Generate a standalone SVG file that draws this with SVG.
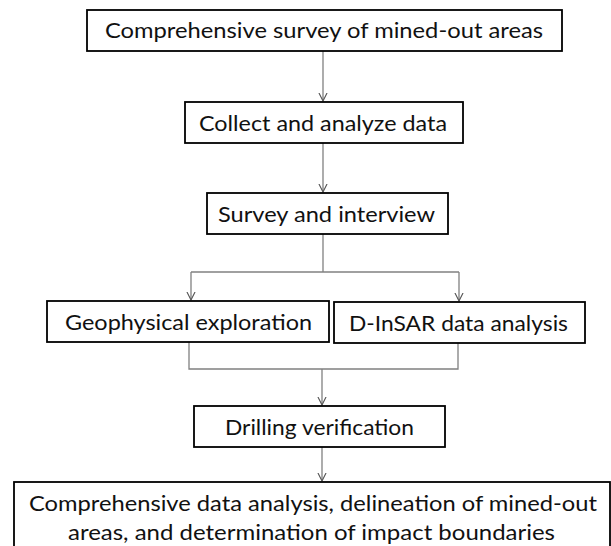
<svg xmlns="http://www.w3.org/2000/svg" width="611" height="546" viewBox="0 0 611 546">
<style>
.box{fill:#fff;stroke:#000;stroke-width:1.8}
.t{font-family:Lato,"Open Sans","Liberation Sans",sans-serif;font-size:22px;fill:#111;text-anchor:middle}
.c{fill:none;stroke:#808080;stroke-width:1.3}
</style>
<defs>
<marker id="ah" viewBox="0 0 10 10" refX="9" refY="5" markerWidth="9" markerHeight="10" markerUnits="userSpaceOnUse" orient="auto">
<path d="M0,0.5 L9,5 L0,9.5" fill="none" stroke="#555" stroke-width="1.2"/>
</marker>
</defs>
<rect width="611" height="546" fill="#fff"/>
<g id="connectors">
<path class="c" d="M323,51 V101" marker-end="url(#ah)"/>
<path class="c" d="M323,143 V192" marker-end="url(#ah)"/>
<path class="c" d="M323,234 V272"/>
<path class="c" d="M191,272 H459"/>
<path class="c" d="M191,272 V300" marker-end="url(#ah)"/>
<path class="c" d="M459,272 V301" marker-end="url(#ah)"/>
<path class="c" d="M189,342 V369 H458 V343"/>
<path class="c" d="M322,369 V405" marker-end="url(#ah)"/>
<path class="c" d="M322,447 V481" marker-end="url(#ah)"/>
</g>
<g id="n1"><rect class="box" x="87" y="10" width="475" height="41"/><text class="t" x="324" y="38" textLength="438" lengthAdjust="spacingAndGlyphs">Comprehensive survey of mined-out areas</text></g>
<g id="n2"><rect class="box" x="185" y="102" width="278" height="41"/><text class="t" x="323" y="131" textLength="248" lengthAdjust="spacingAndGlyphs">Collect and analyze data</text></g>
<g id="n3"><rect class="box" x="207" y="193" width="241" height="41"/><text class="t" x="326.5" y="222" textLength="217" lengthAdjust="spacingAndGlyphs">Survey and interview</text></g>
<g id="n4"><rect class="box" x="47" y="301" width="282" height="41"/><text class="t" x="188.5" y="330" textLength="247" lengthAdjust="spacingAndGlyphs">Geophysical exploration</text></g>
<g id="n5"><rect class="box" x="334" y="302" width="251" height="41"/><text class="t" x="458.5" y="331" textLength="219" lengthAdjust="spacingAndGlyphs">D-InSAR data analysis</text></g>
<g id="n6"><rect class="box" x="194" y="406" width="251" height="41"/><text class="t" x="319.5" y="435" textLength="189" lengthAdjust="spacingAndGlyphs">Drilling verification</text></g>
<g id="n7"><rect class="box" x="14" y="482" width="596" height="80"/>
<text class="t" x="313" y="511" textLength="568" lengthAdjust="spacingAndGlyphs">Comprehensive data analysis, delineation of mined-out</text>
<text class="t" x="311.5" y="540" textLength="487" lengthAdjust="spacingAndGlyphs">areas, and determination of impact boundaries</text></g>
</svg>
